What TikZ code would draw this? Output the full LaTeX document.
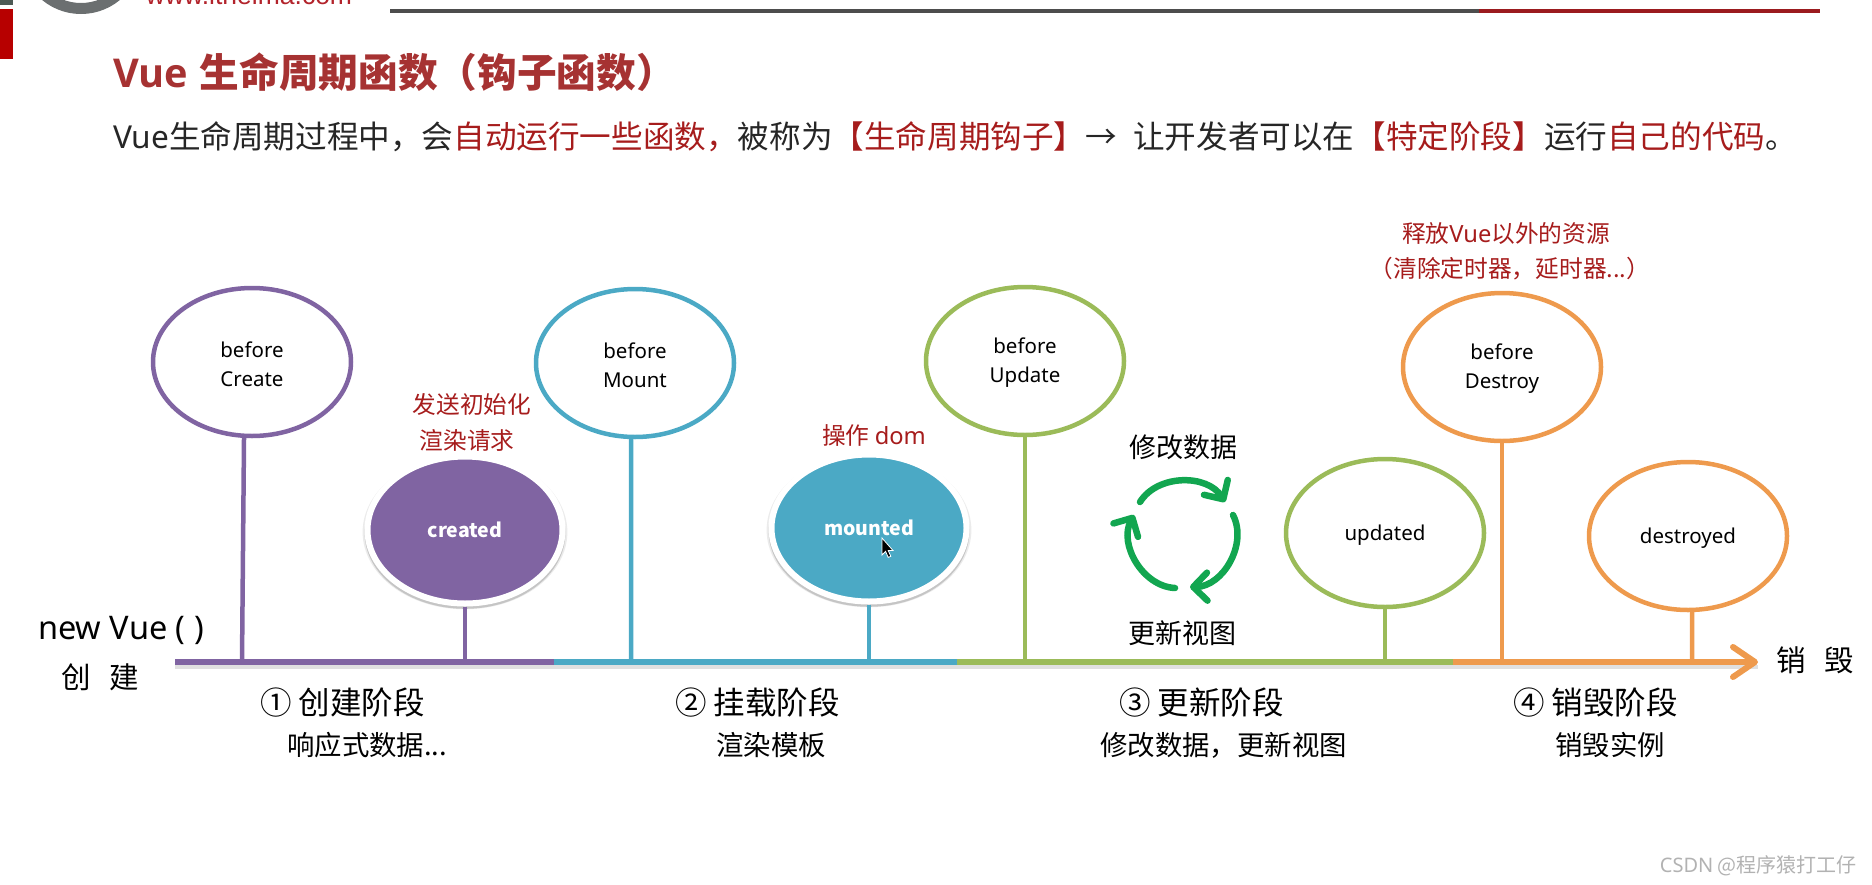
\documentclass[tikz,border=0pt]{standalone}
\usepackage{fontspec}
\setmainfont{Noto Sans CJK SC}
\newfontfamily\latinfont{Noto Sans}
\newfontfamily\titlefont{Open Sans}
\newfontfamily\logofont{Liberation Sans}
\usetikzlibrary{shapes.geometric,arrows.meta,shadows}

\definecolor{purpleline}{HTML}{8064A2}
\definecolor{blueline}{HTML}{4BA9C5}
\definecolor{greenline}{HTML}{9BBB59}
\definecolor{orangeline}{HTML}{EE9A4D}
\definecolor{titlered}{HTML}{A63232}
\definecolor{notered}{HTML}{A61C1C}
\definecolor{bodyblack}{HTML}{262626}
\definecolor{cyclegreen}{HTML}{12A650}
\definecolor{rulegray}{HTML}{4D4D4D}
\definecolor{rulered}{HTML}{9B1B1F}
\definecolor{logored}{HTML}{B2232B}
\definecolor{ringgray}{HTML}{6B6F70}
\definecolor{tabred}{HTML}{B70000}
\definecolor{tabgray}{HTML}{4D5A55}

\newcommand{\red}[1]{\textcolor{notered}{#1}}

\begin{document}
\begin{tikzpicture}[
        x=1pt, y=-1pt,
        hook/.style={ellipse, draw, line width=4.5pt, fill=white, inner sep=0pt, minimum width=198pt, minimum height=148pt,
            align=center, text=black, font=\latinfont\fontsize{20.5}{29}\selectfont},
        hooktwo/.style={hook, text height=48.5pt},
        hookone/.style={hook, text height=19pt},
        hookfill/.style={ellipse, draw=white, line width=6pt, inner sep=0pt, minimum width=195pt, minimum height=147pt,
            text=white, font=\bfseries\fontsize{19.5}{24}\selectfont,
            general shadow={shadow yshift=-2pt, shadow scale=1.05, opacity=0.08, fill=black},
            general shadow={shadow yshift=-3pt, shadow scale=1.03, opacity=0.16, fill=black}},
        stem/.style={line width=4.5pt},
        axisline/.style={line width=6pt},
        axisshadow/.style={line width=4pt, black, opacity=0.12, transform canvas={yshift=-4.5pt}},
        cycle/.style={cyclegreen, line width=6.5pt, line cap=round, -{Straight Barb[length=14pt, width=28pt, round]}},
        note/.style={notered, inner sep=0pt, align=center, font=\fontsize{23.7}{27}\selectfont},
        plain/.style={black, inner sep=0pt, font=\fontsize{27}{31}\selectfont},
        phase/.style={black, inner sep=0pt, anchor=west, font=\fontsize{31.5}{36}\selectfont},
        phasesub/.style={black, inner sep=0pt, anchor=west, font=\fontsize{27.4}{31}\selectfont},
    ]
        \useasboundingbox (0,0) rectangle (1872,884);

        % slide frame at the top
        \begin{scope}
            \clip (0,0) rectangle (1872,884);
            \fill[tabgray] (0,0) rectangle (13,5);
            \fill[tabred] (0,9) rectangle (13,59);
            \draw[ringgray, line width=11pt] (81,-47) circle [radius=55.5pt];
            \node[logored, inner sep=0pt, anchor=base, font=\logofont\fontsize{26.5}{30}\selectfont] (logo) at (249,4) {www.itheima.com};
        \end{scope}
        \draw[rulegray, line width=4pt] (390,11) -- (1479,11);
        \draw[rulered, line width=4pt] (1479,11) -- (1820,11);

        \node[titlered, inner sep=0pt, anchor=west, font=\bfseries\fontsize{39.7}{44}\selectfont] (title) at (113,72)
            {{\titlefont Vue}\hspace{11.5pt}生命周期函数（钩子函数）};
        \node[bodyblack, inner sep=0pt, anchor=west, font=\fontsize{31.6}{36}\selectfont] (intro) at (113,137)
            {{\latinfont Vue}生命周期过程中，会\red{自动运行一些函数，}被称为\red{【生命周期钩子】}→\hspace{9pt} 让开发者可以在\red{【特定阶段】}运行\red{自己的代码}。};

        % axis points
        \coordinate (t0) at (175,662);
        \coordinate (t1) at (553.5,662);
        \coordinate (t2) at (957,662);
        \coordinate (t3) at (1453,662);
        \coordinate (t4) at (1758,662);

        \draw[axisshadow] (t0) -- (t4);

        % hooks
        \node[hooktwo, draw=purpleline] (bcreate) at (252,362) {before\\Create};
        \node[hookfill, fill=purpleline] (created) at (465,530) {created};
        \node[hooktwo, draw=blueline] (bmount) at (635,363) {before\\Mount};
        \node[hookfill, fill=blueline] (mounted) at (869,528) {mounted};
        \node[hooktwo, draw=greenline] (bupdate) at (1025,361) {before\\Update};
        \node[hookone, draw=greenline] (updated) at (1385,533) {updated};
        \node[hooktwo, draw=orangeline] (bdestroy) at (1502,367) {before\\Destroy};
        \node[hookone, draw=orangeline] (destroyed) at (1688,536) {destroyed};

        \draw[stem, purpleline] (bcreate.264) -- (242,662);
        \draw[stem, purpleline] (created.south) -- (created.south |- t0);
        \draw[stem, blueline] (bmount.267) -- (631,662);
        \draw[stem, blueline] (mounted.south) -- (mounted.south |- t0);
        \draw[stem, greenline] (bupdate.south) -- (bupdate.south |- t0);
        \draw[stem, greenline] (updated.south) -- (updated.south |- t0);
        \draw[stem, orangeline] (bdestroy.south) -- (bdestroy.south |- t0);
        \draw[stem, orangeline] (destroyed.273) -- (1692,662);

        \draw[axisline, purpleline] (t0) -- (t1);
        \draw[axisline, blueline] (t1) -- (t2);
        \draw[axisline, greenline] (t2) -- (t3);
        \draw[axisline, orangeline, -{Straight Barb[length=22pt, width=30pt, round]}] (t3) -- (t4);

        % pointer over mounted
        \coordinate (pointer) at (882,538);
        \draw[white, fill=black, line width=0.8pt] (pointer) -- ++(0,17) -- ++(3.6,-3.6) -- ++(2.6,6) -- ++(2.6,-1.1) -- ++(-2.6,-5.8) -- ++(4.8,0) -- cycle;

        % notes
        \node[note] (n1) at (472,404) {发送初始化};
        \node[note] (n2) at (467,440) {渲染请求};
        \node[note] (n3) at (874,435) {操作 {\latinfont dom}};
        \node[note] (n4) at (1506,234) {释放{\latinfont Vue}以外的资源};
        \node[note] (n5) at (1510,269) {（清除定时器，延时器...）};

        % update cycle
        \node[plain] (change) at (1183,447) {修改数据};
        \node[plain] (view) at (1182,633) {更新视图};
        \coordinate (c1) at (1140,502);
        \coordinate (c2) at (1225,502);
        \coordinate (c3) at (1233,515);
        \coordinate (c4) at (1190,587);
        \coordinate (c5) at (1175,588);
        \coordinate (c6) at (1134,515);
        \draw[cycle] (c1) to[bend left=58] (c2);
        \draw[cycle] (c3) to[bend left=58] (c4);
        \draw[cycle] (c5) to[bend left=58] (c6);

        % ends of the axis
        \node[black, inner sep=0pt, font=\latinfont\fontsize{32.5}{36}\selectfont] (newvue) at (121,630) {new Vue ( )};
        \node[black, inner sep=0pt, font=\fontsize{29.5}{33}\selectfont] (create) at (100,677) {创\hspace{19pt}建};
        \node[black, inner sep=0pt, font=\fontsize{29.5}{33}\selectfont] (destroy) at (1815,660) {销\hspace{19pt}毁};

        % phases
        \node[phase] (p1) at (260,703) {① 创建阶段};
        \node[phasesub] (s1) at (287,745) {响应式数据...};
        \node[phase] (p2) at (675,703) {② 挂载阶段};
        \node[phasesub] (s2) at (716,745) {渲染模板};
        \node[phase] (p3) at (1119,703) {③ 更新阶段};
        \node[phasesub] (s3) at (1100,745) {修改数据，更新视图};
        \node[phase] (p4) at (1513,703) {④ 销毁阶段};
        \node[phasesub] (s4) at (1555,745) {销毁实例};

        \node[gray!60, inner sep=0pt, anchor=east, font=\fontsize{20}{24}\selectfont] (mark) at (1857,866) {{\latinfont CSDN} @程序猿打工仔};
    \end{tikzpicture}
\end{document}
